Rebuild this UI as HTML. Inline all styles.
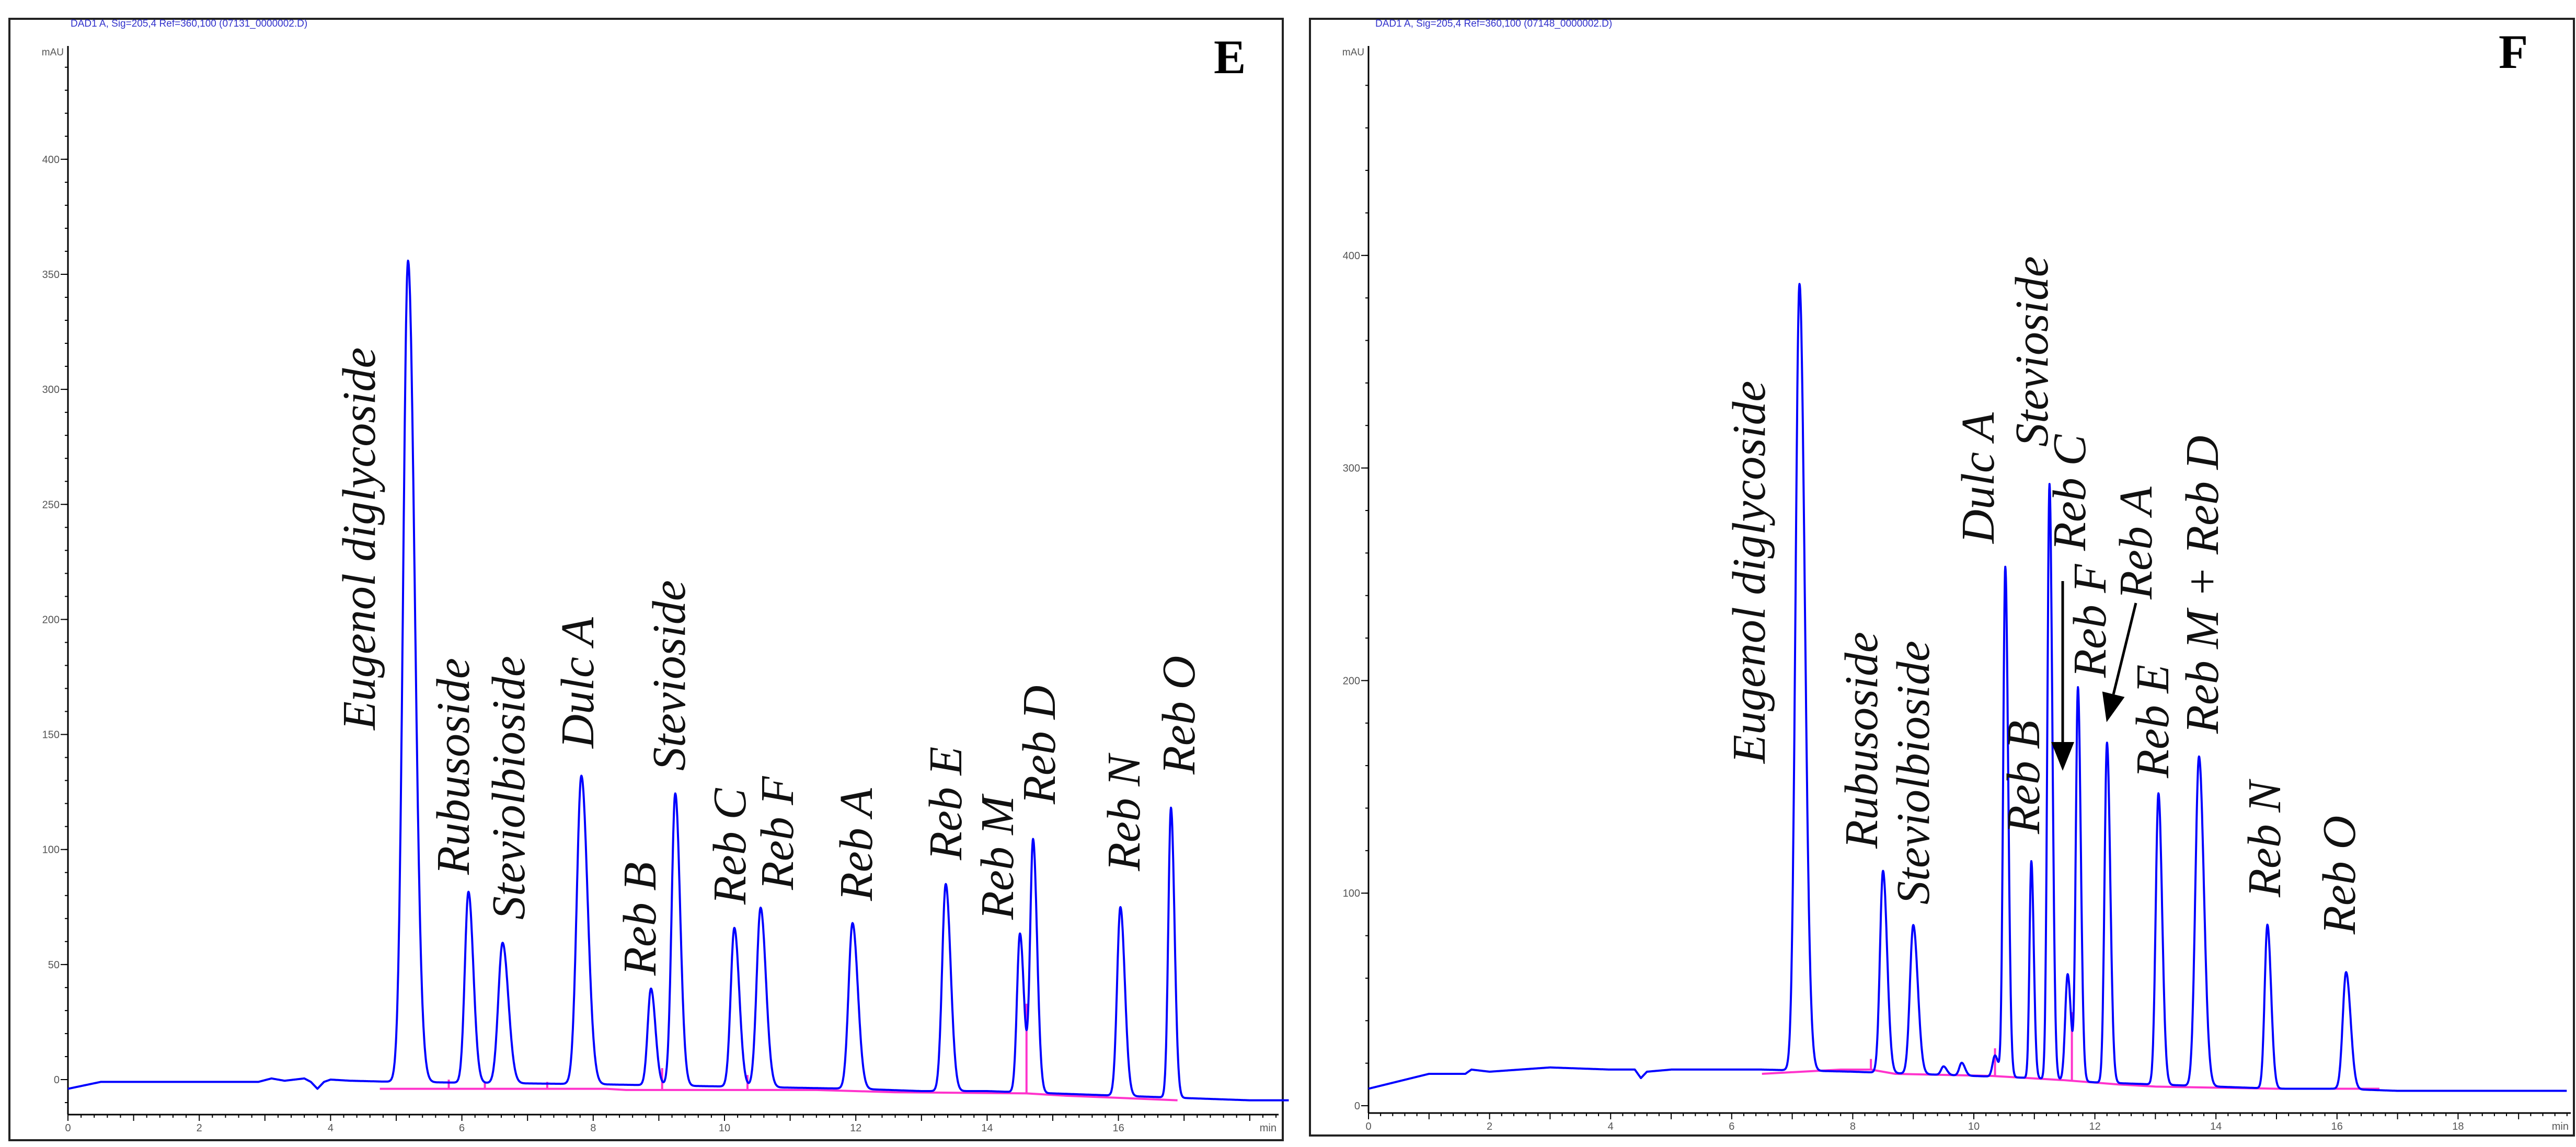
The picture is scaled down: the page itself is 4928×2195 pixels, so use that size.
<!DOCTYPE html>
<html><head><meta charset="utf-8"><style>
html,body{margin:0;padding:0;background:#fff;}
svg{display:block;}
</style></head><body>
<svg id="chart" width="4928" height="2195" viewBox="0 0 4928 2195" xmlns="http://www.w3.org/2000/svg"></svg>
<script>
// ---- Panel E data ----
const eTimes   = [5.18, 6.10, 6.62, 7.82, 8.88, 9.25, 10.15, 10.55, 11.95, 13.37, 14.50, 14.70, 16.03, 16.80];
const eHeights = [357, 83, 61, 134, 42, 127, 69, 78, 72, 90, 69, 110, 82, 126];
const eWidths  = [0.075, 0.055, 0.065, 0.07, 0.05, 0.055, 0.055, 0.06, 0.06, 0.055, 0.045, 0.045, 0.05, 0.04];
const eBaseT = [0, 0.5, 2.9, 3.1, 3.3, 3.6, 3.7, 3.8, 3.9, 4.0, 4.3, 5.0, 8.0, 10.0, 12.0, 13.0, 14.0, 15.0, 16.0, 17.0, 18.0, 18.6];
const eBaseV = [-4, -1, -1, 0.5, -0.5, 0.5, -1, -4, -1, 0, -0.5, -1, -2, -3, -4, -5, -5, -6, -7, -8, -9, -9];
const eLabels = ["Eugenol diglycoside","Rubusoside","Steviolbioside","Dulc A","Reb B","Stevioside","Reb C","Reb F","Reb A","Reb E","Reb M","Reb D","Reb N","Reb O"];
const eYTicks = [0,50,100,150,200,250,300,350,400];
const eXTicks = [0,2,4,6,8,10,12,14,16];

// ---- Panel F data ----
const fTimes   = [7.12, 8.50, 9.00, 9.50, 9.80, 10.35, 10.52, 10.95, 11.25, 11.55, 11.72, 12.20, 13.05, 13.72, 14.85, 16.15];
const fHeights = [370, 95, 70, 4, 6, 10, 240, 102, 280, 50, 185, 160, 137, 155, 77, 55];
const fWidths  = [0.065, 0.05, 0.055, 0.04, 0.04, 0.04, 0.035, 0.03, 0.035, 0.04, 0.035, 0.04, 0.045, 0.06, 0.045, 0.055];
const fBaseT = [0, 1.0, 1.6, 1.7, 2.0, 3.0, 4.0, 4.4, 4.5, 4.6, 5.0, 6.5, 8.0, 9.0, 10.0, 11.0, 12.0, 13.0, 14.0, 15.0, 16.0, 17.0, 19.0, 19.8];
const fBaseV = [8, 15, 15, 17, 16, 18, 17, 17, 13, 16, 17, 17, 16, 15, 14, 13, 11, 10, 9, 8, 8, 7, 7, 7];
const fLabels = ["Eugenol diglycoside","Rubusoside","Steviolbioside","Dulc A","Reb B","Stevioside","Reb C","Reb F","Reb A","Reb E","Reb M + Reb D","Reb N","Reb O"];
const fYTicks = [0,100,200,300,400];
const fXTicks = [0,2,4,6,8,10,12,14,16,18];

const NS = "http://www.w3.org/2000/svg";
const svg = document.getElementById("chart");
function mk(tag, attrs, parent){ const e=document.createElementNS(NS,tag); for(const k in attrs) e.setAttribute(k,attrs[k]); (parent||svg).appendChild(e); return e; }

function interp(ts, vs, t){
  if(t<=ts[0]) return vs[0];
  for(let i=1;i<ts.length;i++){ if(t<=ts[i]){ const f=(t-ts[i-1])/(ts[i]-ts[i-1]); return vs[i-1]+f*(vs[i]-vs[i-1]); } }
  return vs[vs.length-1];
}

function panel(cfg){
  const g = mk("g",{});
  
  
  const X = t => cfg.x0 + t*cfg.xs;
  const Y = v => cfg.y0 - v*cfg.ys;
  const frame = mk("rect",{x:cfg.bx,y:cfg.by,width:cfg.bw,height:cfg.bh,fill:"none",stroke:"#222","stroke-width":4},g);
  
  
  const hdr = mk("text",{x:cfg.hx,y:51,"font-family":"Liberation Sans, sans-serif","font-size":19,fill:"#3333cc"},g);
  hdr.textContent = cfg.header;
  
  
  const letter = mk("text",{x:cfg.lx,y:cfg.ly,"font-family":"Liberation Serif, serif","font-size":92,"font-weight":"bold",fill:"#000"},g);
  letter.textContent = cfg.letter;
  
  
  // axes
  const yax = mk("line",{x1:cfg.x0,y1:cfg.ytop,x2:cfg.x0,y2:cfg.xaxY,stroke:"#000","stroke-width":3},g);
  
  
  const xax = mk("line",{x1:cfg.x0,y1:cfg.xaxY,x2:cfg.xend,y2:cfg.xaxY,stroke:"#000","stroke-width":3},g);
  
  
  const mau = mk("text",{x:cfg.x0-8,y:106,"font-family":"Liberation Sans, sans-serif","font-size":19,fill:"#555","text-anchor":"end"},g);
  mau.textContent="mAU";
  
  
  // minor y ticks
  for(let v=cfg.yMinorStart; Y(v)>=cfg.ytop; v+=cfg.yMinor){
    mk("line",{x1:cfg.x0-6,y1:Y(v),x2:cfg.x0,y2:Y(v),stroke:"#000","stroke-width":2},g);
  }
  cfg.yTicks.forEach(v=>{
    mk("line",{x1:cfg.x0-14,y1:Y(v),x2:cfg.x0,y2:Y(v),stroke:"#000","stroke-width":2},g);
    const t=mk("text",{x:cfg.x0-16,y:Y(v)+7,"font-family":"Liberation Sans, sans-serif","font-size":20,fill:"#555","text-anchor":"end"},g);
    t.textContent=v;
    
    
  });
  for(let t=0; X(t)<=cfg.xend; t+=0.2){
    const big = Math.abs(t-Math.round(t))<1e-6;
    mk("line",{x1:X(t),y1:cfg.xaxY,x2:X(t),y2:cfg.xaxY+(big?12:6),stroke:"#000","stroke-width":2},g);
  }
  cfg.xTicks.forEach(v=>{
    const t=mk("text",{x:X(v),y:cfg.xaxY+32,"font-family":"Liberation Sans, sans-serif","font-size":20,fill:"#555","text-anchor":"middle"},g);
    t.textContent=v;
    
    
  });
  const unit=mk("text",{x:cfg.xend-4,y:cfg.xaxY+32,"font-family":"Liberation Sans, sans-serif","font-size":20,fill:"#555","text-anchor":"end"},g);
  unit.textContent="min";
  
  
  // pink integration baseline
  const pb = mk("polyline",{points:cfg.pink.map(p=>X(p[0])+","+Y(p[1])).join(" "),fill:"none",stroke:"#ff33cc","stroke-width":4},g);
  
  
  cfg.pinkDrops.forEach(d=>{
    mk("line",{x1:X(d[0]),y1:Y(d[1]),x2:X(d[0]),y2:Y(d[2]),stroke:"#ff33cc","stroke-width":4},g);
  });
  // signal trace
  const pts=[];
  for(let t=0; t<=cfg.tmax; t+=0.005){
    let v = interp(cfg.bt, cfg.bv, t);
    for(let i=0;i<cfg.times.length;i++){
      const d=t-cfg.times[i], w=cfg.widths[i];
      const ww = d>0 ? w*1.35 : w;
      v += cfg.heights[i]*Math.exp(-d*d/(2*ww*ww));
    }
    pts.push(X(t).toFixed(1)+","+Y(v).toFixed(1));
  }
  const tr = mk("polyline",{points:pts.join(" "),fill:"none",stroke:"#0000ff","stroke-width":4,"stroke-linejoin":"round"},g);
  
  
  // peak labels
  cfg.labels.forEach((s,i)=>{
    const p=cfg.labelPos[i];
    const t=mk("text",{x:0,y:0,transform:`translate(${p[0]+30},${p[1]}) rotate(-90)`,"font-family":"Liberation Serif, serif","font-style":"italic","font-size":90,fill:"#111"},g);
    t.textContent=s;
    
    
  });
  (cfg.arrows||[]).forEach(a=>{
    const dx=a[2]-a[0], dy=a[3]-a[1], L=Math.hypot(dx,dy), ux=dx/L, uy=dy/L;
    const hx=a[2]-ux*55, hy=a[3]-uy*55;
    mk("line",{x1:a[0],y1:a[1],x2:hx,y2:hy,stroke:"#000","stroke-width":5},g);
    const ar=mk("polygon",{points:`${a[2]},${a[3]} ${hx-uy*22},${hy+ux*22} ${hx+uy*22},${hy-ux*22}`,fill:"#000"},g);
    
    
  });
}

panel({
  name:"panel-e", letter:"E", header:"DAD1 A, Sig=205,4 Ref=360,100 (07131_0000002.D)",
  bx:18,by:36,bw:2436,bh:2146, hx:135, lx:2322, ly:140,
  x0:130, xs:125.6, y0:2066, ys:4.403, ytop:88, xaxY:2133, xend:2446,
  yMinor:10, yMinorStart:-10, yTicks:eYTicks, xTicks:eXTicks, tmax:18.6,
  times:eTimes, heights:eHeights, widths:eWidths, bt:eBaseT, bv:eBaseV,
  pink:[[4.75,-4],[8.2,-4],[8.5,-4.5],[11.4,-4.5],[12.6,-5.5],[14.6,-6],[15.2,-7],[16.9,-9]],
  pinkDrops:[[5.8,-4,0],[6.35,-4,-1],[7.3,-4,-1],[9.05,-4.5,5],[10.35,-4.5,2],[14.6,-6,33]],
  labels:eLabels,
  labelPos:[[687,1397],[867,1674],[973,1760],[1105,1432],[1224,1867],[1280,1475],[1396,1731],[1487,1703],[1638,1724],[1809,1646],[1908,1760],[1988,1539],[2150,1667],[2255,1482]]
});

panel({
  name:"panel-f", letter:"F", header:"DAD1 A, Sig=205,4 Ref=360,100 (07148_0000002.D)",
  bx:2506,by:36,bw:2418,bh:2137, hx:2631, lx:4780, ly:130,
  x0:2618, xs:115.8, y0:2116, ys:4.068, ytop:88, xaxY:2130, xend:4918,
  yMinor:20, yMinorStart:0, yTicks:fYTicks, xTicks:fXTicks, tmax:19.8,
  times:fTimes, heights:fHeights, widths:fWidths, bt:fBaseT, bv:fBaseV,
  pink:[[6.5,15],[7.8,17],[8.3,17],[8.7,15],[10.3,14],[11.5,12],[12.4,10],[13.0,9],[15.0,8],[16.7,8]],
  pinkDrops:[[10.35,14,27],[11.62,12,44],[8.3,17,22]],
  labels:fLabels,
  labelPos:[[3346,1461],[3561,1624],[3660,1731],[3784,1040],[3871,1596],[3887,855],[3959,1054],[3998,1297],[4086,1147],[4118,1489],[4213,1404],[4332,1717],[4475,1788]],
  arrows:[[3946,1112,3946,1475],[4086,1154,4030,1382]]
});
</script>
</body></html>
